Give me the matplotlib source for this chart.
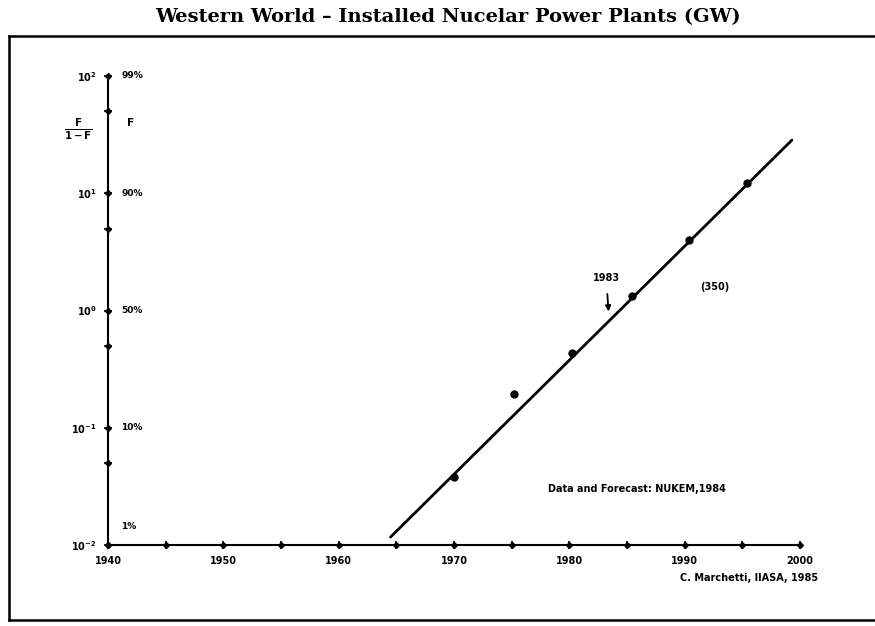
import matplotlib
matplotlib.use('Agg')
import matplotlib.pyplot as plt
from matplotlib.lines import Line2D
from matplotlib.ticker import NullFormatter
import matplotlib.transforms as mtransforms

# Installed nuclear capacity, expressed as F/(1-F) of the saturation level
years = [1970.0, 1975.2, 1980.2, 1985.4, 1990.4, 1995.4]
share_ratio = [0.038, 0.195, 0.43, 1.34, 3.96, 12.2]

# fitted logistic straight line (end points)
fit_years = [1964.5, 1999.3]
fit_ratio = [0.0117, 28.4]

x_ticks = [1940, 1950, 1960, 1970, 1980, 1990, 2000]
x_minor = [1945, 1955, 1965, 1975, 1985, 1995]
y_ticks = [1e-2, 1e-1, 1e0, 1e1, 1e2]
y_minor = [5e-2, 5e-1, 5, 50]
y_labels = [r'$\mathbf{10^{-2}}$', r'$\mathbf{10^{-1}}$', r'$\mathbf{10^{0}}$',
            r'$\mathbf{10^{1}}$', r'$\mathbf{10^{2}}$']
pct_values = [1e-1, 1e0, 1e1, 1e2]
pct_labels = ['10%', '50%', '90%', '99%']

fig = plt.figure(figsize=(8.75, 6.26), dpi=100)
W, H = 875, 626


def px(x, y):
    return x / W, 1 - y / H


ax = fig.add_axes([108 / W, 81 / H, 692 / W, 469 / H])
ax.set_yscale('log')
ax.set_xlim(1940, 2000)
ax.set_ylim(1e-2, 1e2)
for s in ['top', 'right']:
    ax.spines[s].set_visible(False)
for s in ['left', 'bottom']:
    ax.spines[s].set_linewidth(1.5)

ax.set_xticks(x_ticks)
ax.set_xticklabels([str(t) for t in x_ticks], fontsize=7, fontweight='bold')
ax.set_xticks(x_minor, minor=True)
ax.set_yticks(y_ticks)
ax.set_yticklabels(y_labels, fontsize=7)
ax.set_yticks(y_minor, minor=True)
ax.yaxis.set_minor_formatter(NullFormatter())
ax.tick_params(which='both', direction='inout', length=6, width=1.2, pad=5)

# small diamonds on the axes at every tick
ax.plot(x_ticks + x_minor, [1e-2] * 13, 'D', color='black', ms=3, clip_on=False)
ax.plot([1940] * 9, y_ticks + y_minor, 'D', color='black', ms=3, clip_on=False)

# percentage scale on the right of the vertical axis
trans = mtransforms.blended_transform_factory(ax.transAxes, ax.transData)
for v, lab in zip(pct_values, pct_labels):
    ax.text(0.019, v, lab, transform=trans, fontsize=6.5, fontweight='bold',
            va='center', ha='left')
ax.text(0.019, 0.0145, '1%', transform=trans, fontsize=6.5, fontweight='bold',
        va='center', ha='left')
ax.text(0.027, 40, 'F', transform=trans, fontsize=7.5, fontweight='bold',
        va='center', ha='left')
ax.text(-0.043, 35, r'$\mathbf{\frac{F}{1-F}}$', transform=trans, fontsize=10.5,
        va='center', ha='center')

# data and logistic fit
ax.plot(fit_years, fit_ratio, color='black', lw=2, solid_capstyle='round')
ax.plot(years, share_ratio, 'o', color='black', ms=5, clip_on=False)

ax.annotate('1983', xy=(1983.4, 0.98), xytext=(1983.2, 1.9),
            fontsize=7, fontweight='bold', ha='center', va='center',
            arrowprops=dict(arrowstyle='-|>', color='black', lw=1.3,
                            shrinkA=6, shrinkB=0, mutation_scale=8))
ax.text(1992.6, 1.6, '(350)', fontsize=7, fontweight='bold', ha='center', va='center')

fig.text(*px(548, 489), 'Data and Forecast: NUKEM,1984', fontsize=7,
         fontweight='bold', ha='left', va='center')
fig.text(*px(818, 578), 'C. Marchetti, IIASA, 1985', fontsize=7,
         fontweight='bold', ha='right', va='center')

fig.text(*px(448, 17), 'Western World \u2013 Installed Nucelar Power Plants (GW)',
         fontsize=14, fontweight='bold', family='DejaVu Serif',
         ha='center', va='center')

# frame around the plot
for (x0, y0), (x1, y1) in [((9, 36), (9, 620)), ((9, 36), (880, 36)),
                           ((9, 620), (880, 620))]:
    fig.add_artist(Line2D([x0 / W, x1 / W], [1 - y0 / H, 1 - y1 / H],
                          color='black', lw=1.8, transform=fig.transFigure))

fig.savefig('out.png', dpi=100)
